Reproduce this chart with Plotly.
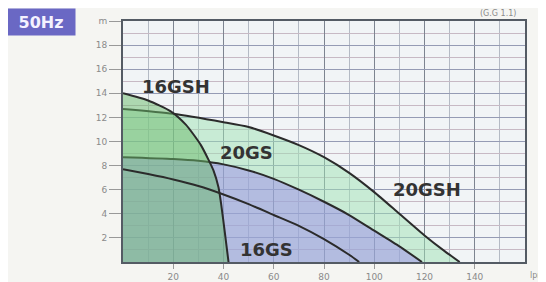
import plotly.graph_objects as go

# ---- data ----
q_16gsh = [0, 10, 19, 25, 28, 31, 34, 36, 38, 39, 40.5, 42]
h_16gsh = [14.0, 13.4, 12.5, 11.4, 10.6, 9.7, 8.5, 7.6, 6.2, 4.9, 2.5, 0]

q_20gsh = [0, 20, 40, 50, 60, 70, 80, 90, 100, 110, 120, 128, 134]
h_20gsh = [12.7, 12.3, 11.6, 11.2, 10.5, 9.7, 8.7, 7.4, 5.8, 4.0, 2.2, 0.9, 0]

q_20gs = [0, 20, 30, 40, 50, 60, 70, 80, 90, 100, 110, 119]
h_20gs = [8.7, 8.55, 8.4, 8.1, 7.6, 6.9, 6.0, 5.0, 3.9, 2.6, 1.3, 0]

q_16gs = [0, 10, 20, 30, 40, 50, 60, 70, 80, 90, 94]
h_16gs = [7.7, 7.3, 6.85, 6.3, 5.6, 4.8, 3.9, 3.0, 1.9, 0.6, 0]

x_ticks = [20, 40, 60, 80, 100, 120, 140]
y_ticks = [2, 4, 6, 8, 10, 12, 14, 16, 18, 20]
y_ticktext = ["2", "4", "6", "8", "10", "12", "14", "16", "18", "m"]

labels = ["16GSH", "20GS", "20GSH", "16GS"]
label_x = [21, 49, 121, 57]
label_y = [14.6, 9.1, 6.0, 1.0]

line_col = "#2b2b2b"
sp = dict(color=line_col, width=2, shape="spline", smoothing=0.6)
fig = go.Figure()
fig.add_trace(go.Scatter(x=q_20gsh, y=h_20gsh, mode="lines", fill="tozeroy",
                         fillcolor="rgba(160,225,180,0.5)", line=sp))
fig.add_trace(go.Scatter(x=q_20gs, y=h_20gs, mode="lines", fill="tozeroy",
                         fillcolor="rgba(150,125,240,0.42)", line=sp))
fig.add_trace(go.Scatter(x=q_16gsh, y=h_16gsh, mode="lines", fill="tozeroy",
                         fillcolor="rgba(105,185,105,0.5)", line=sp))
fig.add_trace(go.Scatter(x=q_16gs, y=h_16gs, mode="lines", line=sp))

for t, x, y in zip(labels, label_x, label_y):
    fig.add_annotation(x=x, y=y, text="<b>" + t + "</b>", showarrow=False,
                       font=dict(family="DejaVu Sans", size=18, color="#333333"),
                       xanchor="center", yanchor="middle")

fig.add_annotation(xref="paper", yref="paper", x=-0.205, y=0.994, text="<b>50Hz</b>",
                   showarrow=False, bgcolor="#6a68c4", width=66, height=24,
                   font=dict(family="DejaVu Sans", size=16, color="#f4f2ff"),
                   xanchor="center", yanchor="middle")
fig.add_annotation(xref="paper", yref="paper", x=0.933, y=1.031, text="(G.G 1.1)",
                   showarrow=False, font=dict(family="DejaVu Sans", size=8, color="#8a8a8a"),
                   xanchor="center", yanchor="middle")
fig.add_annotation(xref="paper", yref="paper", x=1.03, y=-0.054, text="lpm",
                   showarrow=False, font=dict(family="DejaVu Sans", size=8, color="#8a8a8a"),
                   xanchor="center", yanchor="middle")

# page body has an 8px margin, so the figure is shrunk to fit the window
fig.update_layout(
    width=538, height=274,
    margin=dict(l=115, r=21, t=13, b=20),
    paper_bgcolor="#f5f5f2",
    plot_bgcolor="#f1f4f6",
    showlegend=False,
)
fig.update_xaxes(range=[0, 160], tickvals=x_ticks, ticks="outside", ticklen=5,
                 automargin=False,
                 tickcolor="#999999", tickfont=dict(family="DejaVu Sans", size=9, color="#8a8a8a"),
                 showgrid=True, gridcolor="#7d8490", gridwidth=1.3,
                 minor=dict(dtick=10, showgrid=True, gridcolor="#b4bac4", gridwidth=1),
                 showline=True, mirror=True, linecolor="#545b64", linewidth=2,
                 zeroline=False, fixedrange=True)
fig.update_yaxes(range=[0, 20], tickvals=y_ticks, ticktext=y_ticktext, ticks="outside",
                 ticklen=12, tickcolor="#999999", automargin=False,
                 tickfont=dict(family="DejaVu Sans", size=9, color="#8a8a8a"),
                 showgrid=True, gridcolor="#959bb4", gridwidth=1.2,
                 minor=dict(dtick=1, showgrid=True, gridcolor="#c7b9c4", gridwidth=1),
                 showline=True, mirror=True, linecolor="#545b64", linewidth=2,
                 zeroline=False, fixedrange=True)

fig.write_html("out.html")
